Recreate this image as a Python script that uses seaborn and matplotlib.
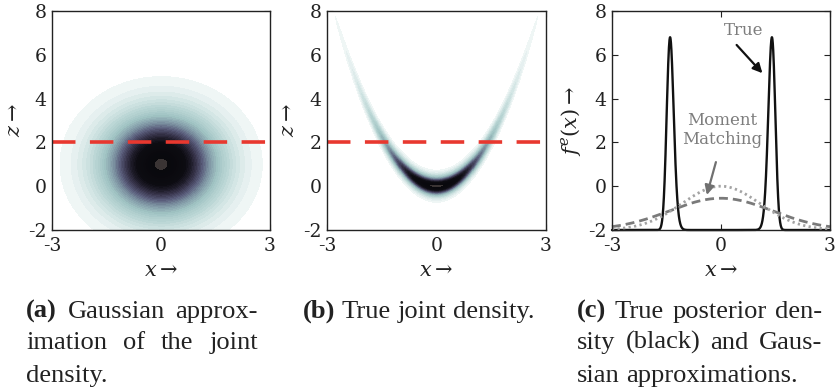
import numpy as np
import pandas as pd
import matplotlib
matplotlib.use("Agg")
import matplotlib.pyplot as plt
from matplotlib.colors import LinearSegmentedColormap, ListedColormap, BoundaryNorm
import seaborn as sns

# ---------------- values ----------------
X_TICKS = [-3, 0, 3]
Z_TICKS = [-2, 0, 2, 4, 6, 8]
X_LIM = [-3, 3]
Z_LIM = [-2, 8]
OBSERVED_Z = 2.0                 # red dashed line
PRIOR_STD = 1.0                  # x ~ N(0, 1)
NOISE_STD = 0.27                 # z | x ~ N(x^2, 0.27^2)
GAUSS_MEAN = [0.0, 1.0]          # Gaussian approximation (x, z)
GAUSS_STD = [1.0, 1.44]
CURVE_BASE = -2.0
TRUE_PEAK = 6.8
APPROX_PEAKS = [-0.55, 0.0]      # dashed (moment matching), dotted
APPROX_STDS = [1.41, 1.07]
LOWEST_LEVEL = 0.02
TOP_LEVEL = 0.985
N_LEVELS = 40
CAPTIONS = [
    ["(a) Gaussian approx-", "imation of the joint", "density."],
    ["(b) True joint density."],
    ["(c) True posterior den-", "sity (black) and Gaus-", "sian approximations."],
]
CAPTION_X = [(26, 258), (303, 535), (577, 822)]
CAPTION_BASELINES = [318, 349, 382]

# ---------------- style ----------------
sns.set_theme(style="ticks")
plt.rcParams["font.family"] = ["DejaVu Serif"]
plt.rcParams["mathtext.fontset"] = "dejavuserif"

W, H = 838, 390
fig = plt.figure(figsize=(W / 100, H / 100), dpi=100)
fig.patch.set_facecolor("white")

def px_axes(l, r, t, b):
    return fig.add_axes([l / W, (H - b) / H, (r - l) / W, (b - t) / H])

ax_a = px_axes(52, 270, 11, 230)
ax_b = px_axes(327, 546, 11, 230)
ax_c = px_axes(612, 830, 11, 230)

base_cmap = LinearSegmentedColormap.from_list("dens", [
    (0.0, "#ffffff"), (0.02, "#f3f8f8"), (0.08, "#dcebea"), (0.18, "#bcd7d6"),
    (0.30, "#9fc2c2"), (0.42, "#7d93a2"), (0.52, "#5b5e7c"), (0.62, "#3a374f"),
    (0.72, "#1c1a26"), (0.80, "#0d0c12"), (1.0, "#08080c")])
levels = np.concatenate([np.linspace(LOWEST_LEVEL, TOP_LEVEL, N_LEVELS), [1.0001]])
mids = 0.5 * (levels[:-1] + levels[1:])
band_colors = [base_cmap(m) for m in mids]
band_colors[-1] = "#3a3434"
band_cmap = ListedColormap(band_colors)
band_cmap.set_under("white")
band_norm = BoundaryNorm(levels, band_cmap.N)

xg = np.linspace(X_LIM[0], X_LIM[1], 655)
zg = np.linspace(Z_LIM[0], Z_LIM[1], 660)
XX, ZZ = np.meshgrid(xg, zg)

dens_gauss = np.exp(-0.5 * ((XX - GAUSS_MEAN[0]) / GAUSS_STD[0]) ** 2
                    - 0.5 * ((ZZ - GAUSS_MEAN[1]) / GAUSS_STD[1]) ** 2)
dens_true = np.exp(-0.5 * (XX / PRIOR_STD) ** 2
                   - 0.5 * ((ZZ - XX ** 2) / NOISE_STD) ** 2)
dens_true = dens_true / dens_true.max()

for ax, D in [(ax_a, dens_gauss), (ax_b, dens_true)]:
    ax.pcolormesh(XX, ZZ, D, cmap=band_cmap, norm=band_norm, shading="nearest",
                  rasterized=True)
    sns.lineplot(x=X_LIM, y=[OBSERVED_Z, OBSERVED_Z], ax=ax, color="#e8382f", lw=2.6)
    ax.lines[-1].set_dashes((6.5, 4.0))

# panel (c)
xc = np.linspace(X_LIM[0], X_LIM[1], 2401)
post = np.exp(-0.5 * (xc / PRIOR_STD) ** 2 - 0.5 * ((OBSERVED_Z - xc ** 2) / NOISE_STD) ** 2)
post = post / post.max()
df_true = pd.DataFrame({"x": xc, "y": CURVE_BASE + (TRUE_PEAK - CURVE_BASE) * post})
sns.lineplot(data=df_true, x="x", y="y", ax=ax_c, color="#111111", lw=1.7)
styles = [("#7a7a7a", (3.2, 1.8)), ("#a3a3a3", (0.8, 1.2))]
for pk, sd, (col, dsh) in zip(APPROX_PEAKS, APPROX_STDS, styles):
    yy = CURVE_BASE + (pk - CURVE_BASE) * np.exp(-0.5 * (xc / sd) ** 2)
    sns.lineplot(x=xc, y=yy, ax=ax_c, color=col, lw=2.0)
    ax_c.lines[-1].set_dashes(dsh)
for ln in ax_c.lines:
    ln.set_clip_on(False)

ax_c.text(0.61, 7.13, "True", color="#7d7d7d", fontsize=12, ha="center", va="center")
ax_c.annotate("", xy=(1.14, 5.16), xytext=(0.43, 6.45),
              arrowprops=dict(arrowstyle="-|>", color="#111111", lw=1.6, mutation_scale=14,
                              shrinkA=0, shrinkB=0))
ax_c.text(0.02, 2.56, "Moment\nMatching", color="#7d7d7d", fontsize=12, ha="center",
          va="center", linespacing=1.15)
ax_c.annotate("", xy=(-0.39, -0.4), xytext=(-0.14, 1.1),
              arrowprops=dict(arrowstyle="-|>", color="#707070", lw=1.6, mutation_scale=14,
                              shrinkA=0, shrinkB=0))

for ax, ylab, ylx in [(ax_a, r"$z\rightarrow$", -0.174), (ax_b, r"$z\rightarrow$", -0.174),
                      (ax_c, r"$f^e(x)\rightarrow$", -0.19)]:
    ax.set_xlim(X_LIM)
    ax.set_ylim(Z_LIM)
    ax.set_xticks(X_TICKS)
    ax.set_yticks(Z_TICKS)
    ax.set_xticklabels([str(v) for v in X_TICKS])
    ax.set_yticklabels([str(v) for v in Z_TICKS])
    ax.tick_params(direction="in", length=4, width=0.8, top=True, right=True,
                   labelsize=13.5, colors="#222222", labelcolor="#222222")
    ax.tick_params(axis="x", pad=5)
    ax.tick_params(axis="y", pad=4)
    for sp in ax.spines.values():
        sp.set_visible(True)
        sp.set_linewidth(1.0)
        sp.set_color("#222222")
    ax.set_facecolor("white")
    ax.set_xlabel(r"$x\rightarrow$", fontsize=15, color="#222222")
    ax.xaxis.label.set_va("center")
    ax.xaxis.set_label_coords(0.5, -0.183)
    ax.set_ylabel(ylab, fontsize=15, color="#222222")
    ax.yaxis.label.set_va("center")
    ax.yaxis.set_label_coords(ylx, 0.5)

# ---------------- captions (justified) ----------------
fig.canvas.draw()
renderer = fig.canvas.get_renderer()
CAP_FONT = ["Liberation Serif", "DejaVu Serif"]

def measure(s, size, bold=False):
    t = fig.text(0, 0, s, fontsize=size, family=CAP_FONT,
                 fontweight="bold" if bold else "normal")
    w = t.get_window_extent(renderer).width
    t.remove()
    return w

def line_width(words, size):
    return sum(measure(w, size, b) for w, b in words) + (len(words) - 1) * 0.25 * size * 100 / 72

def split_words(line):
    out = []
    for w in line.split(" "):
        out.append((w, w.startswith("(") and len(w) == 3 and w.endswith(")")))
    return out

ref_words = split_words(CAPTIONS[1][0])
size = 15.0
size = size * 232.0 / line_width(ref_words, size)

for lines, (x0, x1) in zip(CAPTIONS, CAPTION_X):
    for i, line in enumerate(lines):
        words = split_words(line)
        widths = [measure(w, size, b) for w, b in words]
        nat_gap = 0.25 * size * 100 / 72
        last = i == len(lines) - 1
        if not last and len(words) > 1:
            gap = (x1 - x0 - sum(widths)) / (len(words) - 1)
        else:
            gap = nat_gap
        x = x0
        yb = CAPTION_BASELINES[i]
        for (w, b), wd in zip(words, widths):
            fig.text(x / W, (H - yb) / H, w, fontsize=size, family=CAP_FONT,
                     fontweight="bold" if b else "normal", color="#222222",
                     ha="left", va="baseline")
            x += wd + gap

fig.savefig("out.png", dpi=100, facecolor="white")
